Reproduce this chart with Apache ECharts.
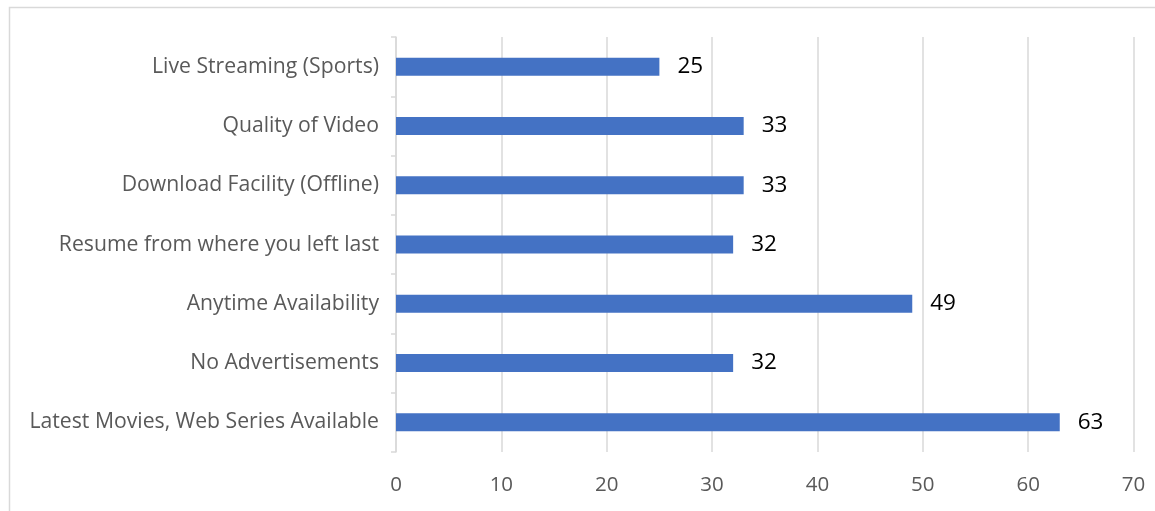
<!DOCTYPE html>
<html>
<head>
<meta charset="utf-8">
<script src="https://cdn.jsdelivr.net/npm/echarts@6/dist/echarts.min.js"></script>
<style>html,body{margin:0;padding:0;background:#fff;}#c{width:1155px;height:511px;}</style>
</head>
<body>
<div id="c"></div>
<script>
const categories = [
  "Latest Movies, Web Series Available",
  "No Advertisements",
  "Anytime Availability",
  "Resume from where you left last",
  "Download Facility (Offline)",
  "Quality of Video",
  "Live Streaming (Sports)"
];
const values = [63, 32, 49, 32, 33, 33, 25];
const xTicks = { min: 0, max: 70, interval: 10 };

const chart = echarts.init(document.getElementById('c'), null, { renderer: 'canvas' });
chart.setOption({
  animation: false,
  backgroundColor: '#ffffff',
  graphic: [{
    type: 'rect',
    shape: { x: 9.5, y: 7.5, width: 1200, height: 600 },
    style: { fill: 'none', stroke: '#d9d9d9', lineWidth: 1.5 },
    silent: true
  }],
  grid: { left: 396, right: 21.5, top: 37, bottom: 59, containLabel: false },
  xAxis: {
    type: 'value',
    min: xTicks.min, max: xTicks.max, interval: xTicks.interval,
    axisLine: { show: false },
    axisTick: { show: false },
    splitLine: { show: true, lineStyle: { color: '#d9d9d9', width: 1.5 } },
    axisLabel: { color: '#595959', fontSize: 20.5, fontFamily: 'Open Sans', margin: 23 }
  },
  yAxis: {
    type: 'category',
    data: categories,
    axisLine: { show: true, lineStyle: { color: '#d9d9d9', width: 1.5 } },
    axisTick: { show: true, length: 5, lineStyle: { color: '#d9d9d9', width: 1.5 } },
    axisLabel: { color: '#595959', fontSize: 21.2, fontFamily: 'Open Sans', margin: 17, padding: [6, 0, 0, 0] }
  },
  series: [{
    type: 'bar',
    data: values,
    barWidth: 18,
    itemStyle: { color: '#4472c4' },
    label: { show: true, position: 'right', distance: 18, color: '#000000', fontSize: 22.5, fontFamily: 'Open Sans', padding: [6, 0, 0, 0] }
  }]
});
</script>
</body>
</html>
